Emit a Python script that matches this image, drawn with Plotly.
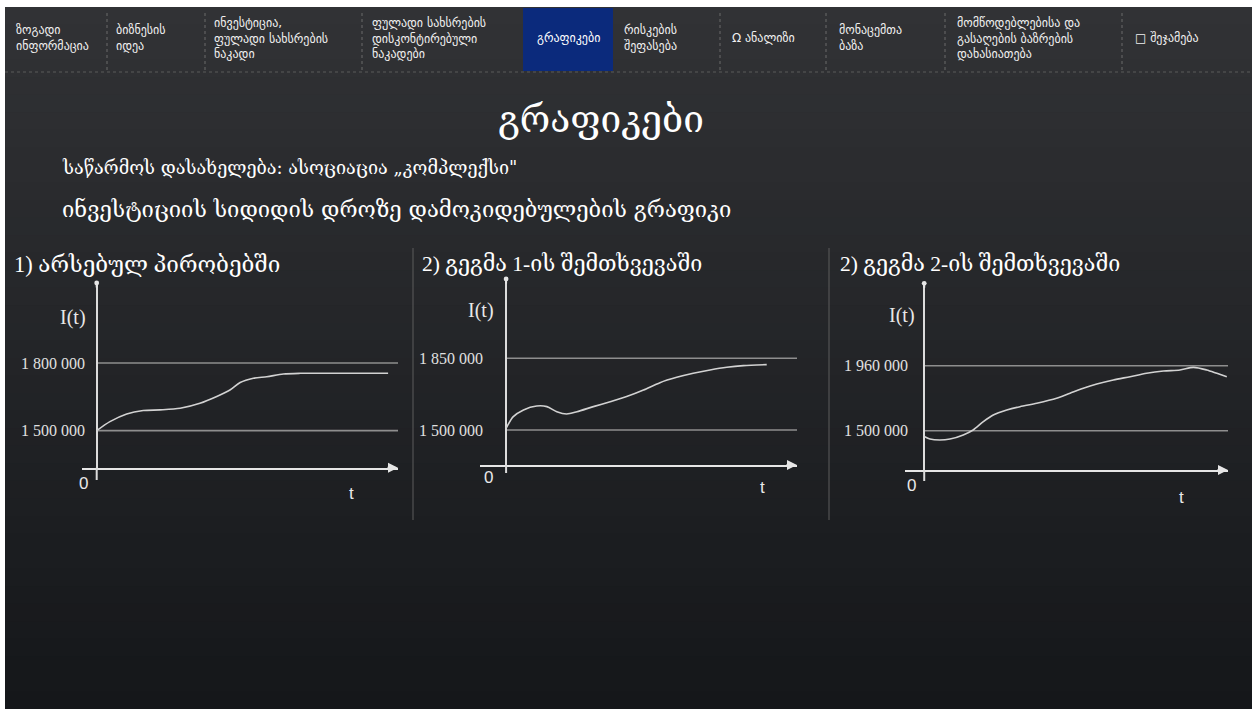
import plotly.graph_objects as go

W, H = 1252, 709

# ---------------- data ----------------
nav_labels = [
    "ზოგადი<br>ინფორმაცია",
    "ბიზნესის<br>იდეა",
    "ინვესტიცია,<br>ფულადი სახსრების<br>ნაკადი",
    "ფულადი სახსრების<br>დისკონტირებული<br>ნაკადები",
    "გრაფიკები",
    "რისკების<br>შეფასება",
    "Ω ანალიზი",
    "მონაცემთა<br>ბაზა",
    "მომწოდებლებისა და<br>გასაღების ბაზრების<br>დახასიათება",
    "□ შეჯამება",
]
nav_x = [14, 114, 212, 370, 533, 622, 730, 837, 955, 1133]
nav_sep = [107, 205, 362, 720, 826, 945, 1122]
nav_selected = 4

page_title = "გრაფიკები"
subtitle1 = "საწარმოს დასახელება: ასოციაცია „კომპლექსი\""
subtitle2 = "ინვესტიციის სიდიდის დროზე დამოკიდებულების გრაფიკი"

chart_titles = ["1) არსებულ პირობებში", "2) გეგმა 1-ის შემთხვევაში", "2) გეგმა 2-ის შემთხვევაში"]

t1 = [0, 0.44, 1.0, 1.55, 2.11, 2.78, 3.44, 4.0, 4.44, 4.78, 5.22, 5.67, 6.22, 6.78, 7.89, 9.71]
i1 = [1500000, 1540000, 1574000, 1589000, 1592000, 1599000, 1621000, 1651000, 1680000,
      1713000, 1732000, 1739000, 1751000, 1754000, 1754000, 1754000]

t2 = [0, 0.24, 0.58, 1.02, 1.36, 1.69, 2.02, 2.36, 2.91, 3.47, 4.02, 4.58, 5.13, 5.69,
      6.24, 6.8, 7.36, 7.91, 8.69]
i2 = [1508000, 1565000, 1598000, 1617000, 1614000, 1589000, 1578000, 1589000, 1614000,
      1638000, 1663000, 1695000, 1731000, 1757000, 1777000, 1793000, 1806000, 1814000, 1819000]

t3 = [0.02, 0.19, 0.52, 0.86, 1.3, 1.63, 1.97, 2.3, 2.75, 3.19, 3.75, 4.41, 4.86, 5.3,
      5.75, 6.3, 6.86, 7.41, 7.97, 8.52, 8.97, 9.41, 9.75, 10.08]
i3 = [1457000, 1441000, 1434000, 1441000, 1470000, 1505000, 1564000, 1611000, 1646000,
      1670000, 1694000, 1729000, 1765000, 1800000, 1830000, 1859000, 1882000, 1906000,
      1922000, 1930000, 1948000, 1930000, 1906000, 1882000]

levels = [[1500000, 1800000], [1500000, 1850000], [1500000, 1960000]]
level_text = [["1 500 000", "1 800 000"], ["1 500 000", "1 850 000"], ["1 500 000", "1 960 000"]]

series_t = [t1, t2, t3]
series_i = [i1, i2, i3]

# ---------------- layout geometry (window pixels) ----------------
xdom_px = [(82, 398), (480, 797), (905, 1228)]
ydom_px = [(467.7, 283), (465, 279), (470, 283.3)]
yaxis_low_px = [480, 473, 481]
xranges = [[-0.49, 10.04], [-0.87, 9.7], [-0.64, 10.12]]
yranges = [[1336000, 2154000], [1329000, 2237000], [1222000, 2543000]]
title_px = [(12, 264), (420, 264), (838, 264)]
it_px = [(73, 317), (481, 310), (902, 315)]
zero_px = [(83, 483), (488, 478), (911, 485)]
tlab_px = [(351, 493), (762, 487), (1181, 497)]
divider_x = [413, 829]
frame_left, frame_top = 5, 7


def px(x):
    return x / W


def py(y):
    return 1 - y / H


fig = go.Figure()
shapes = []
annotations = []

# background: dark vertical gradient inside a thin white frame (left/top)
top_c = (49, 50, 53)
bot_c = (21, 23, 26)
nb = 40
for k in range(nb):
    f = k / (nb - 1)
    c = tuple(int(round(top_c[j] + (bot_c[j] - top_c[j]) * f)) for j in range(3))
    ya = frame_top + (H - frame_top) * k / nb
    yb = min(H, frame_top + (H - frame_top) * (k + 1) / nb + 1)
    shapes.append(dict(type="rect", xref="paper", yref="paper", x0=px(frame_left), x1=1,
                       y0=py(yb), y1=py(ya), fillcolor="rgb(%d,%d,%d)" % c,
                       line=dict(width=0), layer="below"))

# nav bar
shapes.append(dict(type="rect", xref="paper", yref="paper", x0=px(523), x1=px(613),
                   y0=py(71), y1=py(8), fillcolor="#0b2a7c", line=dict(width=0), layer="below"))
for sx in nav_sep:
    shapes.append(dict(type="line", xref="paper", yref="paper", x0=px(sx), x1=px(sx),
                       y0=py(70), y1=py(12), line=dict(color="#6a6a6a", width=1, dash="dot"),
                       layer="below"))
shapes.append(dict(type="line", xref="paper", yref="paper", x0=px(frame_left), x1=1,
                   y0=py(72), y1=py(72), line=dict(color="#5a5a5a", width=1, dash="dot"),
                   layer="below"))
for k, (lab, nx) in enumerate(zip(nav_labels, nav_x)):
    if k == nav_selected:
        annotations.append(dict(x=px(568), y=py(38), xref="paper", yref="paper", text=lab,
                                showarrow=False, xanchor="center", yanchor="middle",
                                font=dict(family="DejaVu Sans", size=12, color="#ffffff")))
    else:
        annotations.append(dict(x=px(nx), y=py(38), xref="paper", yref="paper", text=lab,
                                showarrow=False, xanchor="left", yanchor="middle", align="left",
                                font=dict(family="DejaVu Sans", size=12, color="#f0f0f0")))

# headings
annotations.append(dict(x=px(601), y=py(120), xref="paper", yref="paper", text=page_title,
                        showarrow=False, xanchor="center", yanchor="middle",
                        font=dict(family="DejaVu Serif", size=37, color="#ffffff")))
annotations.append(dict(x=px(60), y=py(168), xref="paper", yref="paper", text=subtitle1,
                        showarrow=False, xanchor="left", yanchor="middle",
                        font=dict(family="DejaVu Serif", size=18, color="#ffffff")))
annotations.append(dict(x=px(60), y=py(209), xref="paper", yref="paper", text=subtitle2,
                        showarrow=False, xanchor="left", yanchor="middle",
                        font=dict(family="DejaVu Serif", size=22, color="#ffffff")))

for dx in divider_x:
    shapes.append(dict(type="line", xref="paper", yref="paper", x0=px(dx), x1=px(dx),
                       y0=py(520), y1=py(248), line=dict(color="#5c5c5c", width=1), layer="below"))

title_sizes = [22.5, 21.5, 21.5]

# charts
for c in range(3):
    sfx = "" if c == 0 else str(c + 1)
    xa = "xaxis" + sfx
    ya = "yaxis" + sfx
    xr = "x" + sfx
    yr = "y" + sfx
    fig.add_trace(go.Scatter(x=series_t[c], y=series_i[c], mode="lines",
                             line=dict(color="#d2d2d2", width=1.6, shape="spline", smoothing=0.8),
                             xaxis=xr, yaxis=yr, showlegend=False, hoverinfo="skip"))
    fig.layout[xa] = dict(domain=[px(xdom_px[c][0]), px(xdom_px[c][1])], range=xranges[c],
                          anchor=yr, showgrid=False, showticklabels=False, ticks="",
                          zeroline=True, zerolinecolor="#dcdcdc", zerolinewidth=2,
                          showline=True, linecolor="#e6e6e6", linewidth=2, fixedrange=True)
    fig.layout[ya] = dict(domain=[py(ydom_px[c][0]), py(ydom_px[c][1])], range=yranges[c],
                          anchor=xr, showgrid=False, zeroline=False, showline=False,
                          tickvals=levels[c], ticktext=level_text[c], ticks="",
                          ticklabelstandoff=-4,
                          tickfont=dict(family="Liberation Serif", size=16, color="#e0e0e0"),
                          fixedrange=True)
    for lv in levels[c]:
        shapes.append(dict(type="line", xref=xr, yref=yr, x0=0, x1=xranges[c][1],
                           y0=lv, y1=lv, line=dict(color="#8e8e8e", width=1.6), layer="below"))
    # short extension of the I axis below the t axis
    shapes.append(dict(type="line", xref=xr, yref="paper", x0=0, x1=0,
                       y0=py(yaxis_low_px[c]), y1=py(ydom_px[c][0]),
                       line=dict(color="#dcdcdc", width=2)))
    # arrow on t axis, dot on I axis
    annotations.append(dict(x=xranges[c][1], y=yranges[c][0], xref=xr, yref=yr,
                            ax=-12, ay=0, showarrow=True, arrowhead=2, arrowsize=1,
                            arrowwidth=2, arrowcolor="#e6e6e6", text=""))
    annotations.append(dict(x=0, y=yranges[c][1], xref=xr, yref=yr,
                            ax=0, ay=6, showarrow=True, arrowhead=6, arrowsize=0.6,
                            arrowwidth=2, arrowcolor="#e6e6e6", text=""))
    annotations.append(dict(x=px(title_px[c][0]), y=py(title_px[c][1]), xref="paper", yref="paper",
                            text=chart_titles[c], showarrow=False, xanchor="left", yanchor="middle",
                            font=dict(family="Liberation Serif, DejaVu Serif", size=title_sizes[c],
                                      color="#ffffff")))
    annotations.append(dict(x=px(it_px[c][0]), y=py(it_px[c][1]), xref="paper", yref="paper",
                            text="I(t)", showarrow=False, xanchor="center", yanchor="middle",
                            font=dict(family="Liberation Serif", size=20, color="#e8e8e8")))
    annotations.append(dict(x=px(zero_px[c][0]), y=py(zero_px[c][1]), xref="paper", yref="paper",
                            text="0", showarrow=False, xanchor="center", yanchor="middle",
                            font=dict(family="Liberation Sans", size=17, color="#e8e8e8")))
    annotations.append(dict(x=px(tlab_px[c][0]), y=py(tlab_px[c][1]), xref="paper", yref="paper",
                            text="t", showarrow=False, xanchor="center", yanchor="middle",
                            font=dict(family="Liberation Sans", size=17, color="#e8e8e8")))

fig.update_layout(width=W, height=H, margin=dict(l=0, r=0, t=0, b=0),
                  paper_bgcolor="#ffffff", plot_bgcolor="rgba(0,0,0,0)",
                  shapes=shapes, annotations=annotations, showlegend=False)

fig.write_html("out.html", config={"displayModeBar": False},
               post_script="document.body.style.margin='0';document.body.style.overflow='hidden';")
